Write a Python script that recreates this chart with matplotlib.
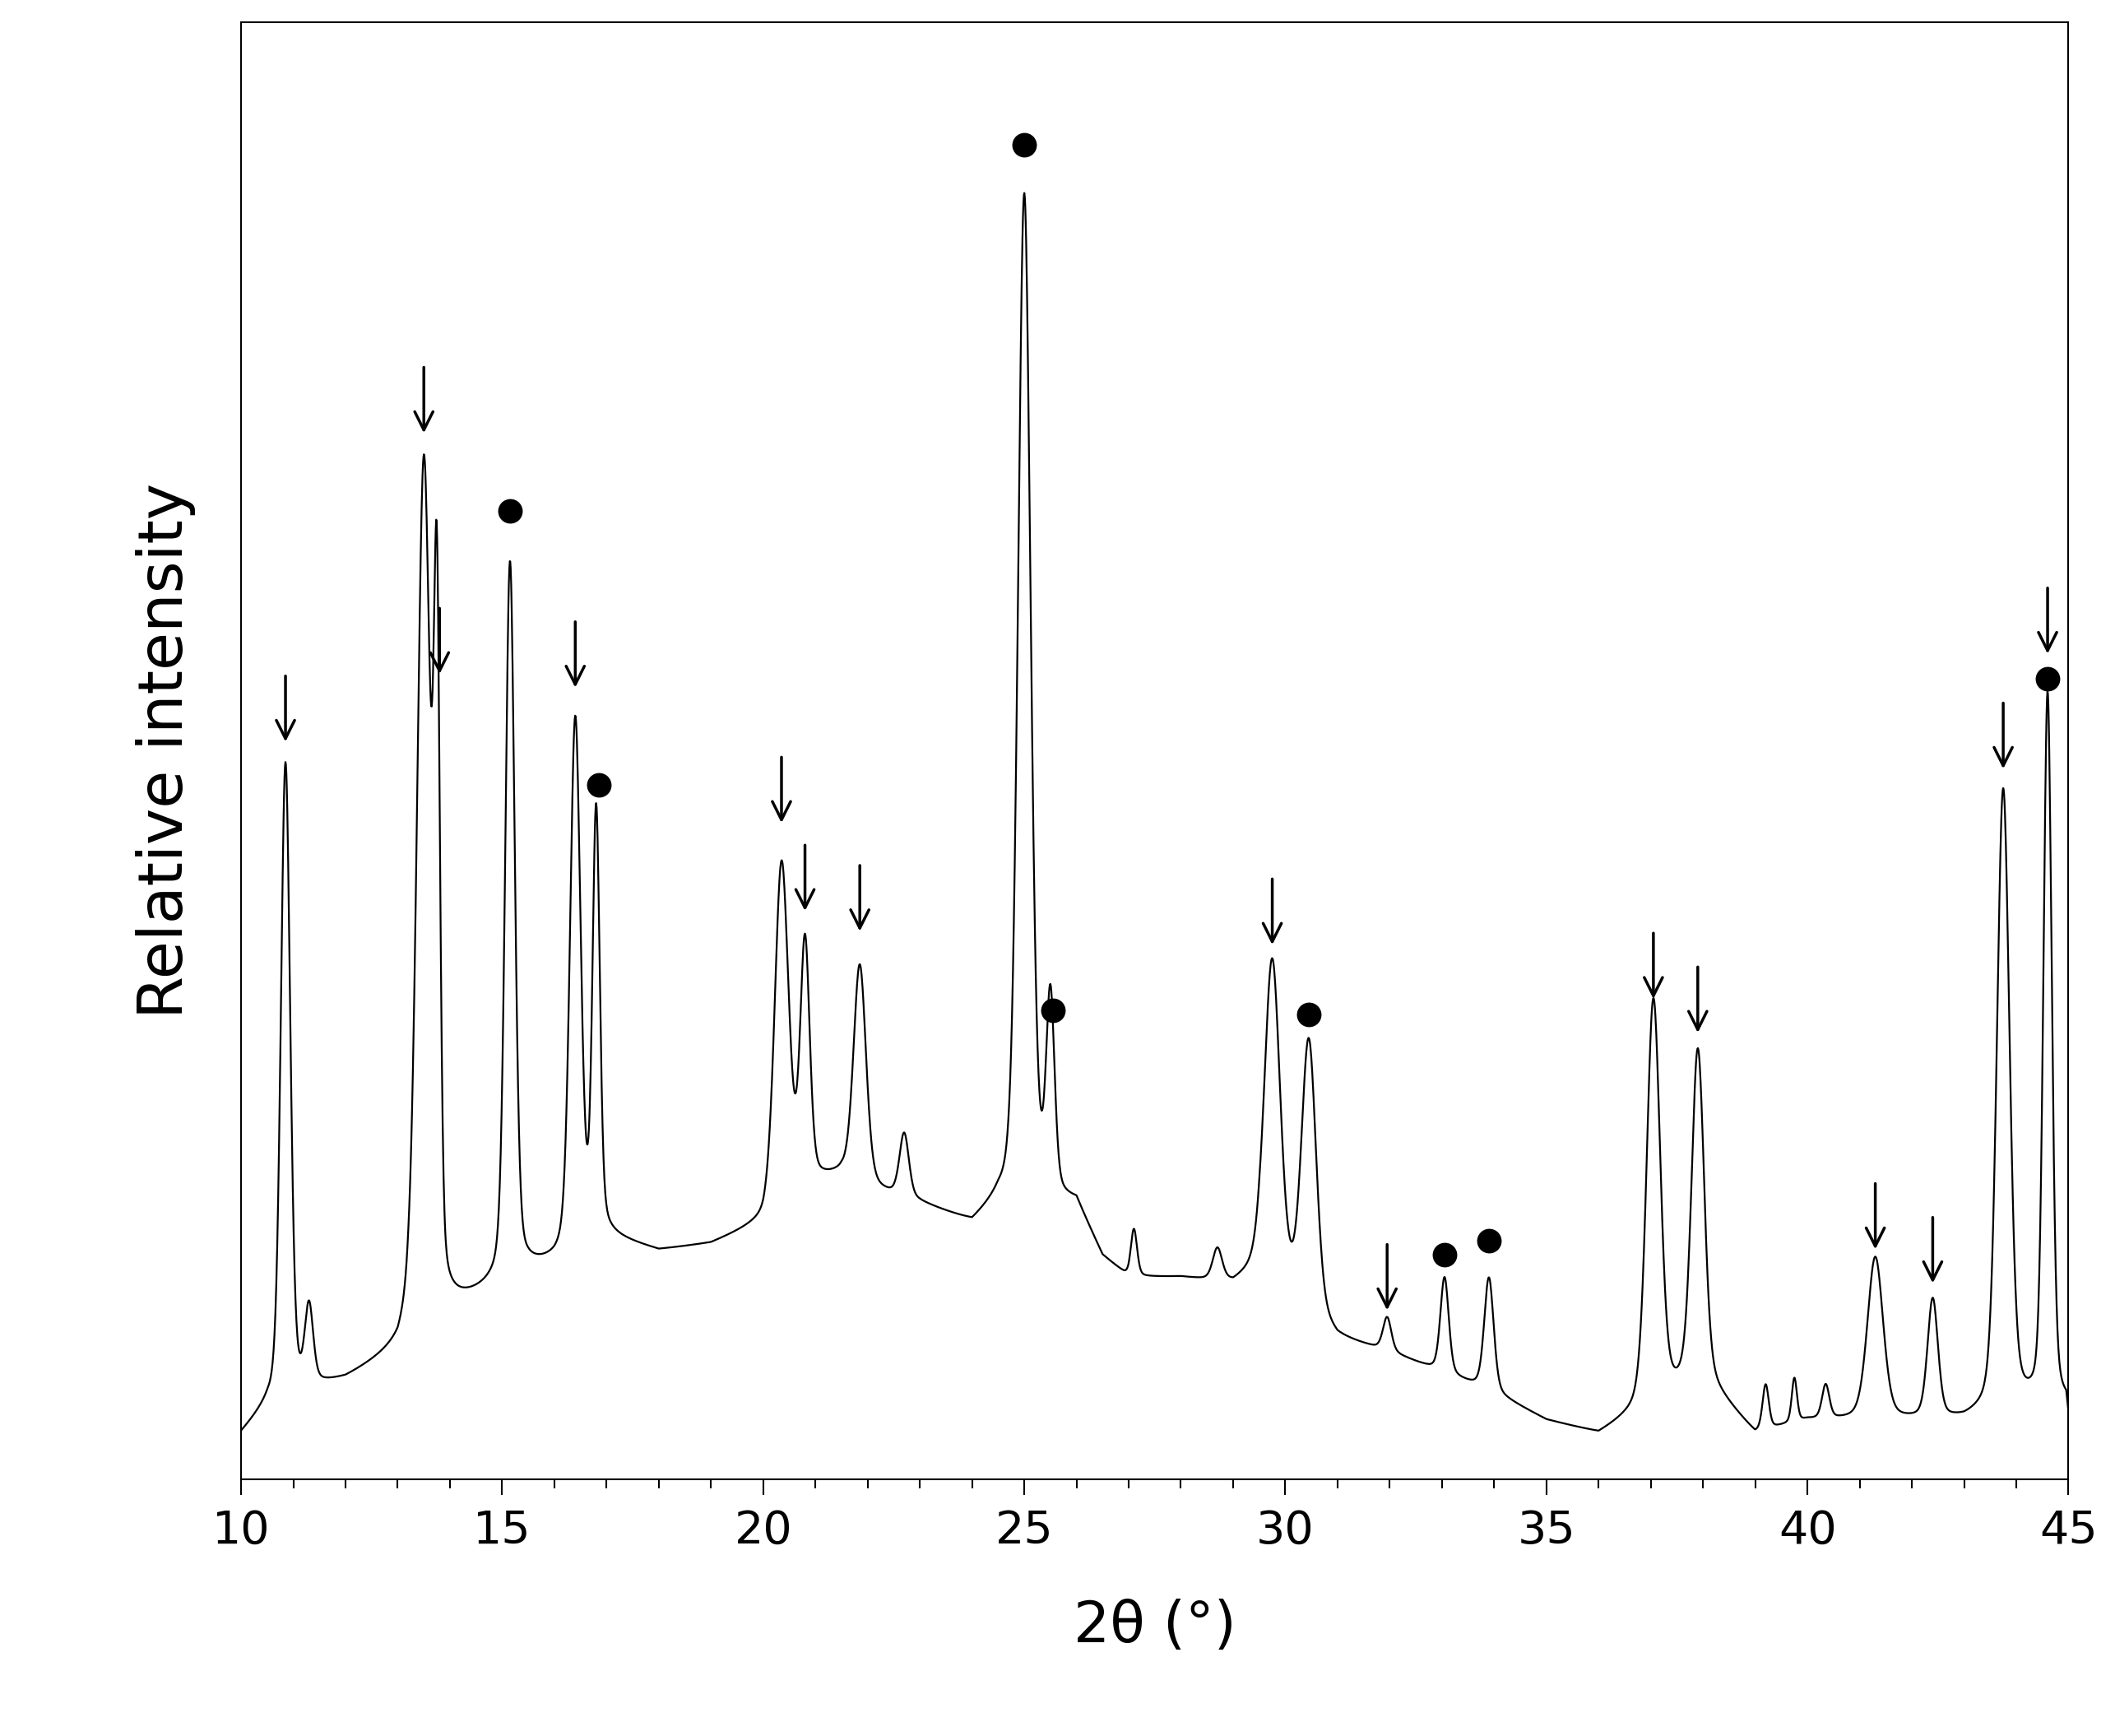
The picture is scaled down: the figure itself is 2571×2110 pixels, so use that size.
import numpy as np
import matplotlib
matplotlib.use("Agg")
import matplotlib.pyplot as plt
from matplotlib.ticker import MultipleLocator

# baseline knots (2theta, intensity units)
base_x = [10,10.5,11.5,12,13,13.2,14,14.5,15.5,16,17,18,19,20,20.5,21.5,22,23,24,24.5,26,26.5,27,28,29,29.5,31,32,33,34,35,36,37,38,39,40,41,42,43,44,45]
base_y = [33,53,68,73,93,108,123,133,153,158,178,168,173,188,213,223,213,203,188,203,203,163,148,148,143,153,103,93,78,63,43,33,53,73,33,43,43,43,43,53,53]
# peaks: position, top intensity, width (sigma)
peak_x = [10.85,11.3,13.5,13.75,15.15,16.4,16.8,20.35,20.8,21.85,22.7,25.0,25.5,27.1,28.7,29.75,30.45,31.95,33.05,33.9,37.05,37.9,39.2,39.75,40.35,41.3,42.4,43.75,44.6]
peak_top = [528,123,745,578,675,558,488,453,393,378,253,948,348,183,168,381,321,118,148,148,353,315,68,73,68,163,131,508,578]
peak_w = [0.09,0.08,0.13,0.06,0.09,0.10,0.07,0.13,0.09,0.12,0.09,0.12,0.08,0.06,0.09,0.15,0.14,0.08,0.08,0.09,0.13,0.12,0.06,0.05,0.07,0.15,0.10,0.12,0.08]
arrow_x = [10.85,13.5,13.8,16.4,20.35,20.8,21.85,29.75,31.95,37.05,37.9,41.3,42.4,43.75,44.6]
arrow_tip = [543,771,593,583,483,418,403,393,123,353,328,168,143,523,608]
dot_x = [15.15,16.85,25.0,25.55,30.45,33.05,33.9,44.6]
dot_y = [715,513,986,346,343,166,176,591]

x = np.linspace(10, 45, 4000)
base = np.interp(x, base_x, base_y)
y = base.copy()
for p, t, w in zip(peak_x, peak_top, peak_w):
    h = t - np.interp(p, base_x, base_y)
    y += h / (1 + ((x - p) / (1.2 * w)) ** 2) * 0.3 + h * 0.7 * np.exp(-0.5 * ((x - p) / w) ** 2)
y[x > 44.95] = np.linspace(y[x > 44.95][0], 50, (x > 44.95).sum())

fig = plt.figure(figsize=(25.71, 21.10), dpi=100)
ax = fig.add_axes([0.114, 0.148, 0.864, 0.839])
ax.plot(x, y, color='black', lw=1.6)
for ax_, tip in zip(arrow_x, arrow_tip):
    ax.annotate('', xy=(ax_, tip), xytext=(ax_, tip + 52),
                arrowprops=dict(arrowstyle='->', color='black', lw=2.5, mutation_scale=40))
ax.scatter(dot_x, dot_y, s=420, color='black', zorder=5)
ax.set_xlim(10, 45)
ax.set_ylim(0, 1076)
ax.set_yticks([])
ax.xaxis.set_major_locator(MultipleLocator(5))
ax.xaxis.set_minor_locator(MultipleLocator(1))
ax.tick_params(axis='x', which='major', length=14, width=1.5, labelsize=40, pad=12)
ax.tick_params(axis='x', which='minor', length=8, width=1.5)
for s in ax.spines.values():
    s.set_linewidth(1.5)
ax.set_xlabel('2θ (°)', fontsize=50, labelpad=40)
ax.set_ylabel('Relative intensity', fontsize=54, labelpad=40)
fig.savefig('out.png', dpi=100)
